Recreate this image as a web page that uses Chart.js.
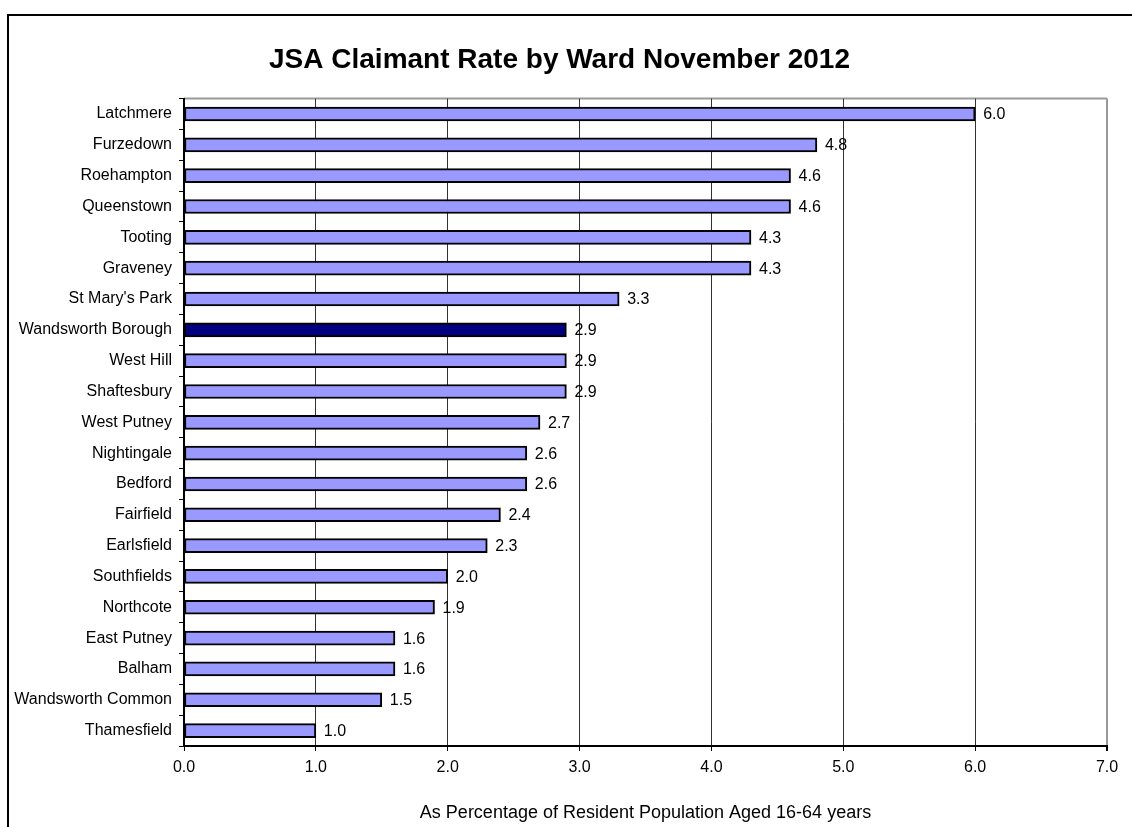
<!DOCTYPE html>
<html>
<head>
<meta charset="UTF-8">
<title>JSA Claimant Rate by Ward</title>
<style>
	body {margin: 0; background: #fff}
	canvas {display: block}
</style>
</head>
<body>
	<!-- chart canvas, same size as the window -->
	<canvas id="wardChart" width="1132" height="827"></canvas>
</body>
<script src="https://cdn.jsdelivr.net/npm/chart.js@4.4.0/dist/chart.umd.min.js"></script>
<script>
	// ward names, top to bottom
	const wards = ['Latchmere', 'Furzedown', 'Roehampton', 'Queenstown', 'Tooting', 'Graveney',
		"St Mary's Park", 'Wandsworth Borough', 'West Hill', 'Shaftesbury', 'West Putney',
		'Nightingale', 'Bedford', 'Fairfield', 'Earlsfield', 'Southfields', 'Northcote',
		'East Putney', 'Balham', 'Wandsworth Common', 'Thamesfield'];
	// claimant rate (%)
	const rates = [6.0, 4.8, 4.6, 4.6, 4.3, 4.3, 3.3, 2.9, 2.9, 2.9, 2.7,
		2.6, 2.6, 2.4, 2.3, 2.0, 1.9, 1.6, 1.6, 1.5, 1.0];
	const boroughName = 'Wandsworth Borough';
	const xTicks = [0, 1, 2, 3, 4, 5, 6, 7];

	const FONT = '"Liberation Sans", Arial, sans-serif';

	// outer frame + top border of the plot area
	const framePlugin = {
		id: 'frame',
		beforeDraw(chart) {
			const c = chart.ctx;
			const a = chart.chartArea;
			c.save();
			c.strokeStyle = '#000';
			c.lineWidth = 2;
			c.beginPath();
			c.moveTo(8, 900);
			c.lineTo(8, 15);
			c.lineTo(1200, 15);
			c.stroke();
			c.strokeStyle = '#999';
			c.lineWidth = 2;
			c.beginPath();
			c.moveTo(a.left, a.top);
			c.lineTo(a.right, a.top);
			c.stroke();
			c.restore();
		}
	};

	// value labels at the end of each bar
	const valuePlugin = {
		id: 'values',
		afterDatasetsDraw(chart) {
			const c = chart.ctx;
			const meta = chart.getDatasetMeta(0);
			c.save();
			c.font = '16px ' + FONT;
			c.fillStyle = '#000';
			c.textAlign = 'left';
			c.textBaseline = 'middle';
			meta.data.forEach(function(bar, i) {
				c.fillText(rates[i].toFixed(1), bar.x + 8, bar.y + 1);
			});
			c.restore();
		}
	};

	new Chart(document.getElementById('wardChart'), {
		type: 'bar',
		data: {
			labels: wards,
			datasets: [{
				data: rates,
				backgroundColor: wards.map(w => w === boroughName ? '#000080' : '#9999FF'),
				borderColor: '#000',
				borderWidth: 2,
				borderSkipped: false,
				barThickness: 14
			}]
		},
		options: {
			indexAxis: 'y',
			responsive: false,
			animation: false,
			layout: {padding: {left: 12, right: 25, top: 0, bottom: 0}},
			plugins: {
				legend: {display: false},
				tooltip: {enabled: false},
				title: {
					display: true,
					text: 'JSA Claimant Rate by Ward November 2012',
					color: '#000',
					font: {family: FONT, size: 28, weight: 'bold'},
					padding: {top: 43, bottom: 22}
				}
			},
			scales: {
				x: {
					min: 0,
					max: 7,
					afterBuildTicks(scale) {
						scale.ticks = xTicks.map(v => ({value: v}));
					},
					afterFit(scale) {
						scale.height = 81;
					},
					ticks: {
						color: '#000',
						font: {family: FONT, size: 16},
						padding: 7,
						callback: v => Number(v).toFixed(1)
					},
					grid: {
						color: ctx => ctx.tick && ctx.tick.value === 7 ? '#999' : (ctx.tick && ctx.tick.value === 0 ? 'rgba(0,0,0,0)' : '#333'),
						lineWidth: ctx => ctx.tick && ctx.tick.value === 7 ? 2 : 1,
						tickColor: '#000',
						tickLength: 5
					},
					border: {color: '#000', width: 2},
					title: {
						display: true,
						text: 'As Percentage of Resident Population Aged 16-64 years',
						color: '#000',
						font: {family: FONT, size: 18},
						padding: {top: 27, bottom: 3}
					}
				},
				y: {
					offset: true,
					afterFit(scale) {
						scale.width = 172;
					},
					ticks: {
						color: '#000',
						font: {family: FONT, size: 16},
						padding: 7
					},
					grid: {
						offset: true,
						drawOnChartArea: false,
						tickColor: '#000',
						tickLength: 5
					},
					border: {color: '#000', width: 2}
				}
			}
		},
		plugins: [framePlugin, valuePlugin]
	});
</script>
</html>
